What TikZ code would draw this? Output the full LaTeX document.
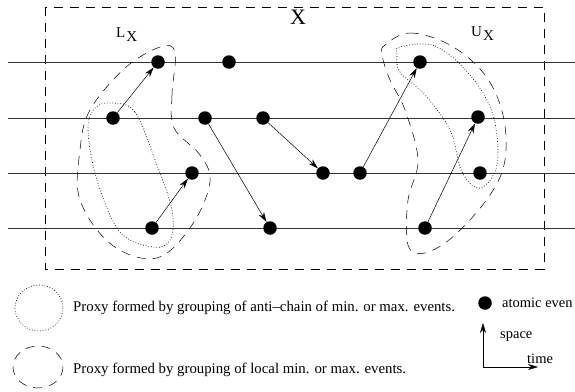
\documentclass[tikz,border=0pt]{standalone}
\usepackage{fontspec}
\setmainfont{Liberation Serif}
\usetikzlibrary{arrows.meta}
\begin{document}
\begin{tikzpicture}[x=1pt,y=-1pt,
  ev/.style={circle,fill=black,inner sep=0pt,minimum size=13.5pt},
  arr/.style={-{Stealth[length=10pt,width=6pt]},line width=0.5pt},
  timeline/.style={line width=0.6pt,black!80},
  dsh/.style={dash pattern=on 9pt off 7pt,line width=0.5pt},
  dtt/.style={dotted,line width=0.7pt},
  lbl/.style={font=\fontsize{14.8}{17}\selectfont,anchor=west,inner sep=0pt},
  lbls/.style={font=\fontsize{14.5}{17}\selectfont,anchor=west,inner sep=0pt}]
\useasboundingbox (0,0) rectangle (575,391);
% box X
\draw[dsh] (45,7) rectangle (544,269);
\node[font=\fontsize{22}{24}\selectfont,inner sep=0pt] (X) at (298,17) {X};
\node[font=\fontsize{15}{17}\selectfont,inner sep=0pt,anchor=west] (LX) at (116,35) {L\kern1pt\raisebox{-4pt}{X}};
\node[font=\fontsize{15}{17}\selectfont,inner sep=0pt,anchor=west] (UX) at (471,34) {U\kern1pt\raisebox{-4pt}{X}};
% timelines
\foreach \y in {62,118,173,228} \draw[timeline] (8,\y) -- (575,\y);
% events
\node[ev] (a1) at (158,62) {};
\node[ev] (a2) at (229,62) {};
\node[ev] (a3) at (420,62) {};
\node[ev] (b1) at (113,118) {};
\node[ev] (b2) at (205,118) {};
\node[ev] (b3) at (263,118) {};
\node[ev] (b4) at (478,117) {};
\node[ev] (c1) at (192,173) {};
\node[ev] (c2) at (323,173) {};
\node[ev] (c3) at (360,173) {};
\node[ev] (c4) at (480,173) {};
\node[ev] (d1) at (152,228) {};
\node[ev] (d2) at (270,228) {};
\node[ev] (d3) at (425,228) {};
% messages
\draw[arr] (b1) -- (a1);
\draw[arr] (d1) -- (c1);
\draw[arr] (b2) -- (d2);
\draw[arr] (b3) -- (c2);
\draw[arr] (c3) -- (a3);
\draw[arr] (d3) -- (b4);
% proxies
\draw[dsh] plot[smooth cycle,tension=0.6] coordinates {(175,52) (172,95) (174,128) (200,155) (210,182) (192,225) (157,258) (112,245) (80,200) (80,150) (90,110) (125,68) (160,47)};
\draw[dtt] plot[smooth cycle,tension=0.6] coordinates {(113,103) (135,112) (155,160) (172,210) (170,240) (153,247) (120,232) (97,180) (88,130) (95,108)};
\draw[dsh] plot[smooth cycle,tension=0.6] coordinates {(385,45) (410,33) (450,45) (485,75) (503,115) (505,160) (490,195) (455,235) (425,253) (408,245) (408,200) (418,160) (405,110) (390,80) (382,55)};
\draw[dtt] plot[smooth cycle,tension=0.6] coordinates {(400,47) (435,46) (470,75) (493,115) (497,165) (480,188) (462,172) (450,130) (425,95) (400,72) (397,55)};
% legend
\draw[dtt] (39,308) ellipse (24 and 23);
\node[lbl] (t1) at (73,308) {Proxy formed by grouping of anti–chain of min. or max. events.};
\draw[dsh] (38,367) ellipse (25 and 21);
\node[lbl] (t2) at (73,370) {Proxy formed by grouping of local min. or max. events.};
\node[ev] (ae) at (485,303) {};
\node[lbls] (t3) at (502,303) {atomic even};
\coordinate (o) at (483,367);
\coordinate (up) at (483,323);
\coordinate (rt) at (538,367);
\draw[arr] (o) -- (up);
\draw[arr] (o) -- (rt);
\node[lbls] (sp) at (500,337) {space};
\node[lbls] (tm) at (527,359) {time};
\end{tikzpicture}
\end{document}
